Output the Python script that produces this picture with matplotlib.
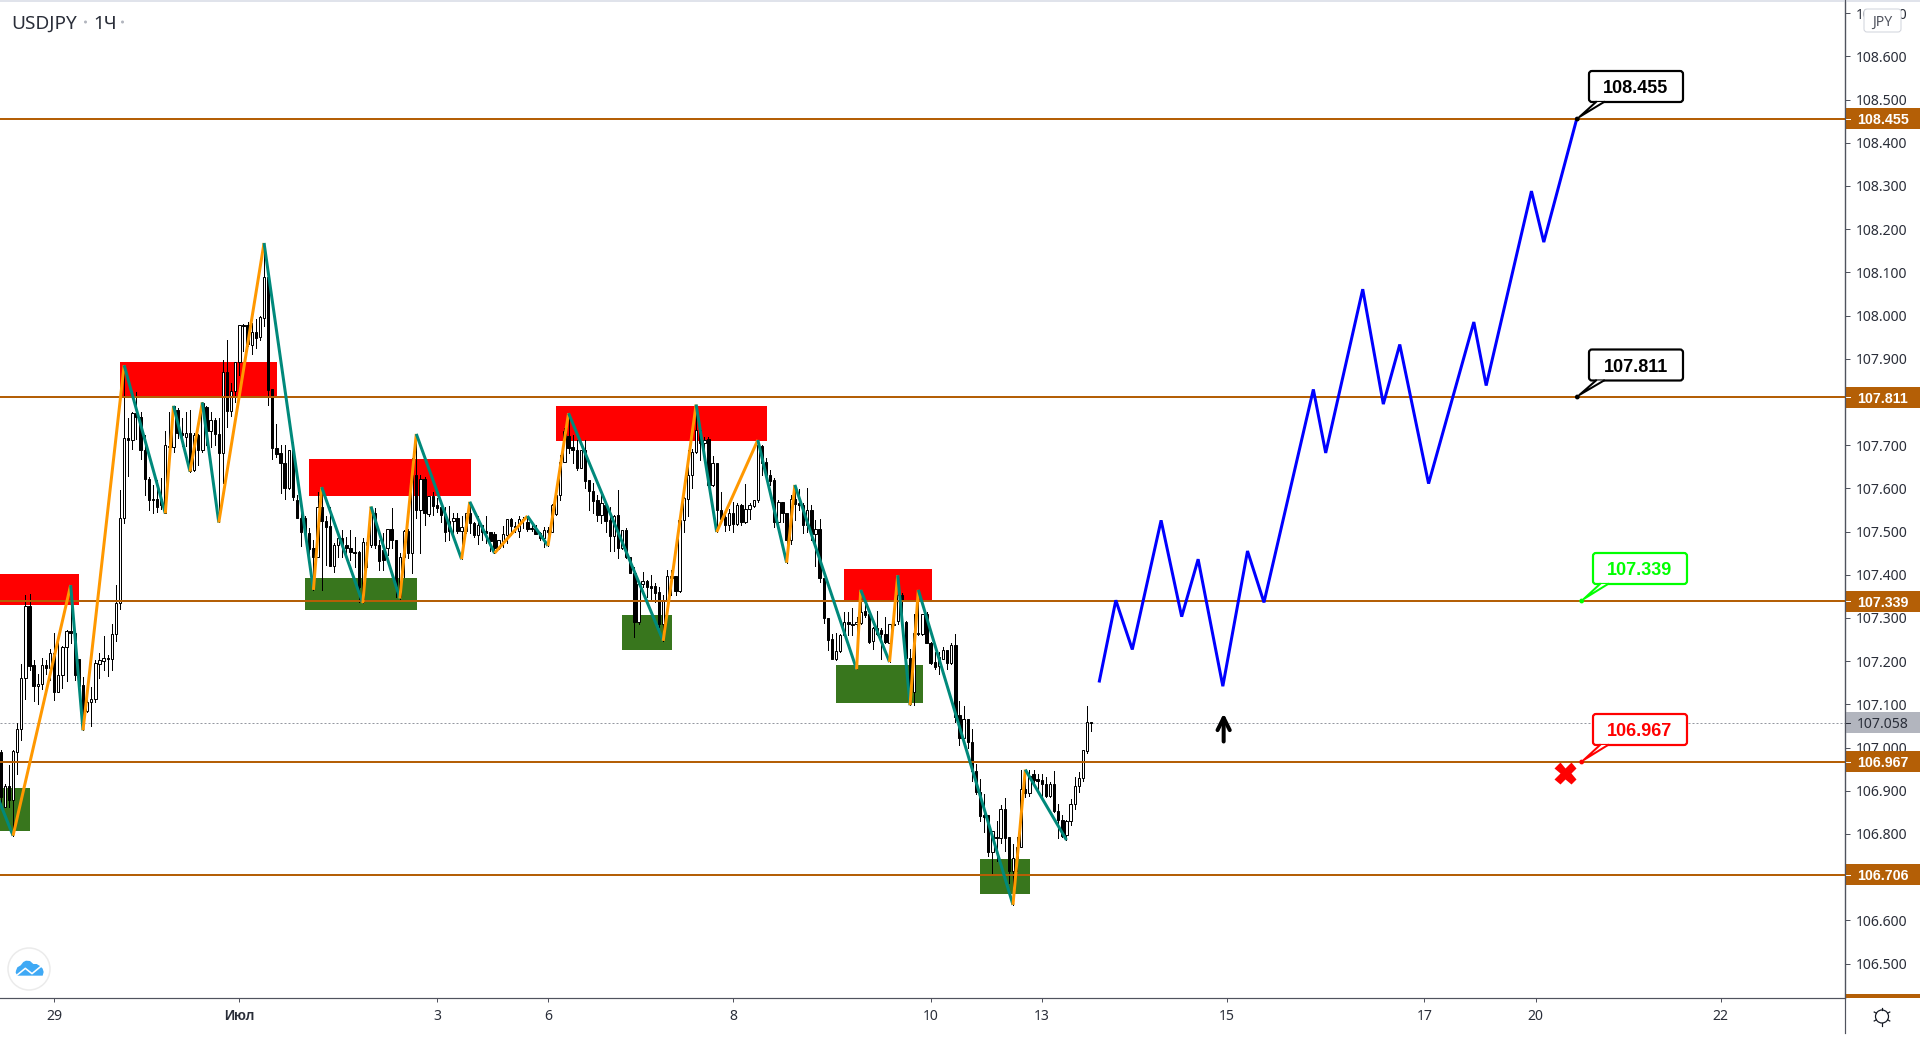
import matplotlib
matplotlib.use('Agg')
import matplotlib.pyplot as plt
from matplotlib.patches import Rectangle, Circle, FancyBboxPatch, Polygon
import numpy as np

plt.rcParams['font.family'] = ['Noto Sans', 'DejaVu Sans']
BOLD_FONT = ['Liberation Sans', 'DejaVu Sans']

# candles, one per hour
open_px = [
    106.990,106.862,106.911,106.879,106.990,107.044,107.160,107.328,107.190,107.143,
    107.147,107.190,107.185,107.218,107.129,107.169,107.232,107.270,107.266,107.204,
    107.144,107.084,107.106,107.113,107.194,107.201,107.208,107.205,107.262,107.334,
    107.531,107.716,107.711,107.774,107.765,107.689,107.621,107.576,107.576,107.576,
    107.544,107.699,107.695,107.782,107.728,107.718,107.728,107.643,107.724,107.688,
    107.788,107.732,107.759,107.726,107.681,107.869,107.778,107.825,107.892,107.977,
    107.977,107.931,107.962,107.950,107.995,108.090,107.830,107.693,107.681,107.658,
    107.600,107.689,107.573,107.531,107.531,107.496,107.461,107.442,107.556,107.525,
    107.513,107.420,107.468,107.484,107.470,107.461,107.453,107.452,107.338,107.475,
    107.470,107.542,107.469,107.457,107.461,107.505,107.481,107.348,107.440,107.501,
    107.451,107.631,107.549,107.621,107.541,107.583,107.561,107.556,107.541,107.525,
    107.525,107.531,107.502,107.502,107.542,107.519,107.493,107.515,107.502,107.498,
    107.494,107.461,107.478,107.493,107.528,107.513,107.502,107.528,107.522,107.507,
    107.505,107.496,107.484,107.503,107.498,107.541,107.585,107.661,107.722,107.695,
    107.688,107.647,107.688,107.620,107.593,107.573,107.539,107.562,107.527,107.490,
    107.539,107.461,107.504,107.442,107.405,107.291,107.378,107.385,107.374,107.374,
    107.361,107.287,107.341,107.396,107.396,107.363,107.527,107.575,107.631,107.685,
    107.736,107.706,107.714,107.608,107.658,107.550,107.533,107.515,107.542,107.518,
    107.561,107.521,107.552,107.559,107.572,107.699,107.661,107.631,107.620,107.521,
    107.568,107.544,107.481,107.575,107.566,107.562,107.515,107.550,107.494,107.505,
    107.392,107.299,107.251,107.205,107.224,107.260,107.290,107.286,107.286,107.289,
    107.317,107.309,107.246,107.276,107.272,107.264,107.243,107.286,107.293,107.353,
    107.291,107.208,107.129,107.266,107.264,107.309,107.243,107.198,107.189,107.206,
    107.225,107.196,107.237,107.075,107.023,107.065,107.014,106.946,106.898,106.843,
    106.843,106.758,106.794,106.790,106.858,106.793,106.714,106.745,106.769,106.905,
    106.895,106.938,106.928,106.924,106.916,106.887,106.916,106.853,106.833,106.798,
    106.830,106.870,106.911,106.930,106.992,107.060,
]
high_px = [
    106.994,106.916,106.959,106.994,107.057,107.193,107.353,107.355,107.202,107.171,
    107.207,107.202,107.228,107.266,107.249,107.235,107.272,107.376,107.268,107.204,
    107.164,107.133,107.140,107.202,107.220,107.258,107.214,107.286,107.376,107.597,
    107.885,107.763,107.777,107.824,107.777,107.724,107.627,107.608,107.620,107.624,
    107.732,107.777,107.791,107.786,107.763,107.777,107.782,107.728,107.726,107.799,
    107.790,107.777,107.763,107.763,107.898,107.944,107.844,107.892,107.977,107.981,
    107.985,107.983,107.991,107.998,108.168,108.091,107.830,107.750,107.701,107.701,
    107.689,107.708,107.585,107.554,107.535,107.508,107.481,107.591,107.603,107.535,
    107.556,107.474,107.496,107.504,107.488,107.504,107.488,107.456,107.484,107.488,
    107.558,107.554,107.481,107.496,107.505,107.554,107.481,107.450,107.504,107.505,
    107.670,107.726,107.631,107.626,107.583,107.591,107.577,107.559,107.558,107.559,
    107.542,107.542,107.535,107.544,107.569,107.523,107.535,107.515,107.535,107.498,
    107.500,107.480,107.512,107.528,107.531,107.523,107.535,107.533,107.536,107.515,
    107.515,107.498,107.511,107.511,107.563,107.585,107.678,107.740,107.774,107.724,
    107.712,107.689,107.712,107.620,107.612,107.585,107.589,107.566,107.558,107.539,
    107.597,107.504,107.508,107.442,107.419,107.380,107.407,107.388,107.399,107.380,
    107.372,107.353,107.411,107.411,107.396,107.527,107.581,107.689,107.691,107.794,
    107.736,107.719,107.719,107.674,107.658,107.591,107.550,107.552,107.569,107.566,
    107.564,107.610,107.567,107.573,107.712,107.701,107.670,107.643,107.624,107.573,
    107.569,107.544,107.585,107.608,107.598,107.566,107.600,107.562,107.527,107.528,
    107.392,107.299,107.262,107.266,107.264,107.314,107.314,107.322,107.303,107.365,
    107.334,107.310,107.280,107.317,107.276,107.303,107.287,107.320,107.399,107.357,
    107.293,107.229,107.310,107.365,107.310,107.314,107.245,107.222,107.222,107.233,
    107.225,107.241,107.264,107.107,107.096,107.066,107.044,106.961,106.928,106.893,
    106.843,106.806,106.829,106.868,106.884,106.793,106.776,106.793,106.949,106.949,
    106.947,106.949,106.938,106.939,106.932,106.920,106.946,106.870,106.845,106.833,
    106.881,106.932,106.943,106.995,107.096,107.060,
]
low_px = [
    106.862,106.862,106.862,106.796,106.939,107.017,107.113,107.179,107.107,107.100,
    107.135,107.170,107.157,107.110,107.129,107.137,107.154,107.241,107.156,107.140,
    107.040,107.082,107.050,107.105,107.161,107.179,107.165,107.179,107.247,107.321,
    107.520,107.629,107.692,107.715,107.669,107.585,107.549,107.542,107.545,107.552,
    107.542,107.690,107.685,107.717,107.699,107.699,107.639,107.641,107.654,107.684,
    107.701,107.695,107.701,107.521,107.612,107.741,107.767,107.801,107.863,107.917,
    107.929,107.910,107.926,107.944,107.975,107.792,107.669,107.672,107.589,107.575,
    107.598,107.572,107.531,107.467,107.495,107.442,107.365,107.440,107.365,107.423,
    107.420,107.407,107.442,107.442,107.436,107.434,107.419,107.338,107.334,107.417,
    107.465,107.461,107.411,107.411,107.446,107.461,107.349,107.345,107.395,107.438,
    107.403,107.531,107.450,107.515,107.535,107.539,107.546,107.523,107.477,107.481,
    107.488,107.496,107.436,107.496,107.496,107.488,107.471,107.481,107.473,107.454,
    107.450,107.459,107.465,107.473,107.492,107.500,107.487,107.508,107.502,107.502,
    107.494,107.481,107.465,107.467,107.498,107.539,107.573,107.660,107.682,107.658,
    107.643,107.647,107.600,107.549,107.542,107.525,107.519,107.500,107.454,107.454,
    107.438,107.459,107.438,107.403,107.256,107.285,107.372,107.349,107.345,107.338,
    107.280,107.247,107.338,107.353,107.353,107.361,107.500,107.535,107.600,107.682,
    107.666,107.678,107.608,107.606,107.499,107.519,107.502,107.504,107.500,107.515,
    107.515,107.519,107.528,107.558,107.569,107.631,107.624,107.608,107.511,107.515,
    107.523,107.428,107.471,107.527,107.550,107.496,107.500,107.481,107.420,107.384,
    107.289,107.225,107.205,107.202,107.222,107.260,107.260,107.260,107.181,107.287,
    107.303,107.241,107.227,107.260,107.206,107.241,107.198,107.283,107.287,107.280,
    107.194,107.098,107.098,107.260,107.260,107.241,107.194,107.183,107.170,107.204,
    107.183,107.194,107.059,107.005,107.021,106.999,106.922,106.893,106.831,106.804,
    106.748,106.709,106.737,106.779,106.760,106.686,106.636,106.715,106.769,106.885,
    106.887,106.916,106.901,106.887,106.885,106.885,106.851,106.790,106.793,106.786,
    106.820,106.858,106.897,106.922,106.987,107.038,
]
close_px = [
    106.885,106.911,106.878,106.992,107.044,107.160,107.328,107.188,107.143,107.148,
    107.190,107.185,107.218,107.129,107.169,107.232,107.270,107.266,107.167,107.143,
    107.085,107.106,107.113,107.195,107.202,107.208,107.205,107.262,107.334,107.531,
    107.716,107.711,107.774,107.765,107.688,107.621,107.572,107.572,107.556,107.562,
    107.701,107.695,107.790,107.728,107.724,107.728,107.641,107.724,107.688,107.797,
    107.732,107.759,107.725,107.681,107.869,107.778,107.825,107.892,107.977,107.975,
    107.933,107.962,107.949,107.996,108.090,107.828,107.693,107.680,107.658,107.600,
    107.689,107.581,107.531,107.500,107.496,107.459,107.442,107.556,107.525,107.511,
    107.420,107.468,107.484,107.470,107.461,107.453,107.451,107.372,107.475,107.470,
    107.542,107.468,107.433,107.434,107.505,107.481,107.372,107.440,107.501,107.451,
    107.631,107.549,107.621,107.542,107.583,107.559,107.554,107.539,107.500,107.501,
    107.531,107.502,107.511,107.542,107.519,107.492,107.515,107.499,107.496,107.477,
    107.461,107.480,107.494,107.528,107.513,107.511,107.528,107.527,107.505,107.508,
    107.494,107.484,107.503,107.500,107.562,107.585,107.662,107.732,107.693,107.688,
    107.647,107.688,107.617,107.593,107.571,107.539,107.566,107.525,107.490,107.537,
    107.461,107.504,107.442,107.405,107.291,107.378,107.385,107.371,107.370,107.358,
    107.287,107.341,107.396,107.392,107.363,107.527,107.577,107.631,107.685,107.734,
    107.706,107.712,107.608,107.658,107.550,107.529,107.515,107.542,107.518,107.562,
    107.521,107.552,107.562,107.573,107.701,107.658,107.631,107.617,107.521,107.568,
    107.542,107.481,107.575,107.564,107.562,107.515,107.550,107.494,107.505,107.392,
    107.299,107.249,107.205,107.224,107.260,107.290,107.286,107.284,107.291,107.314,
    107.307,107.245,107.276,107.264,107.263,107.245,107.286,107.283,107.353,107.341,
    107.208,107.100,107.266,107.263,107.309,107.243,107.196,107.187,107.210,107.225,
    107.196,107.237,107.071,107.023,107.065,107.013,106.946,106.897,106.841,106.839,
    106.758,106.806,106.790,106.858,106.790,106.714,106.745,106.769,106.905,106.895,
    106.934,106.926,106.922,106.915,106.887,106.916,106.853,106.833,106.796,106.831,
    106.870,106.912,106.930,106.994,107.059,107.057,
]

# zigzag turning points, alternating down / up legs
zz_bar = [-4, 3, 17, 20, 30, 40, 42, 46, 49, 53, 64, 76, 78, 88, 90, 97, 101, 112, 114, 120,
          128, 133, 138, 161, 169, 174, 184, 191, 193, 208, 209, 216, 218, 221, 223, 246, 249, 259]
zz_price = [106.963, 106.796, 107.376, 107.040, 107.885, 107.542, 107.791, 107.639, 107.799, 107.521,
            108.168, 107.365, 107.603, 107.334, 107.558, 107.345, 107.726, 107.436, 107.569, 107.450,
            107.536, 107.467, 107.774, 107.247, 107.794, 107.499, 107.712, 107.428, 107.608, 107.181,
            107.365, 107.198, 107.399, 107.098, 107.365, 106.636, 106.949, 106.786]

# projected path
path_bar = [267, 271, 275, 282, 287, 291, 297, 303, 307, 319, 322, 331, 336, 340, 347, 358, 361, 372, 375, 383]
path_price = [107.154, 107.341, 107.227, 107.526, 107.303, 107.436, 107.142, 107.455, 107.336, 107.829,
              107.682, 108.061, 107.795, 107.933, 107.611, 107.985, 107.838, 108.288, 108.170, 108.455]

# zones: start bar, end bar, low, high
red_start = [-5, 29, 74.9, 134.9, 204.9]
red_end = [19, 67.1, 114.3, 186.2, 226.3]
red_low = [107.330, 107.808, 107.583, 107.710, 107.339]
red_high = [107.402, 107.893, 107.668, 107.791, 107.413]
green_start = [-5, 73.9, 150.9, 203, 238]
green_end = [7.1, 101.2, 163.1, 224.1, 250.1]
green_low = [106.808, 107.318, 107.225, 107.103, 106.660]
green_high = [106.907, 107.392, 107.307, 107.191, 106.741]

levels = [108.455, 107.811, 107.339, 106.967, 106.706]
last_price = 107.058
price_ticks = np.arange(106.5, 108.75, 0.1)
day_ticks = [13, 58, 106, 133, 178, 226, 253, 298, 346, 373, 418]
day_labels = ['29', 'Июл', '3', '6', '8', '10', '13', '15', '17', '20', '22']

BROWN = '#b45f06'
AXIS = '#50535e'
TEXT = '#2a2e39'
W, H = 1920, 1038
PX = 0.72  # one pixel in points at dpi 100

fig = plt.figure(figsize=(W / 100, H / 100), dpi=100, facecolor='white')
ax = fig.add_axes([0, (H - 998) / H, 1845 / W, 996 / H])
ax.set_xlim(-0.17, 448.2)
ax.set_ylim(106.4203, 108.7258)

for i in range(len(red_start)):
    ax.add_patch(Rectangle((red_start[i], red_low[i]), red_end[i] - red_start[i], red_high[i] - red_low[i],
                           fc='#ff0000', ec='none', zorder=1))
for i in range(len(green_start)):
    ax.add_patch(Rectangle((green_start[i], green_low[i]), green_end[i] - green_start[i], green_high[i] - green_low[i],
                           fc='#38761d', ec='none', zorder=1))

ax.axhline(last_price, color='#9598a1', lw=PX, ls=(0, (2, 2)), zorder=1.5)

opens, highs, lows, closes = map(np.array, (open_px, high_px, low_px, close_px))
bars = np.arange(len(opens))
ax.vlines(bars, lows, highs, color='black', lw=PX, zorder=3, antialiased=False)
up = closes >= opens
ax.bar(bars, np.abs(closes - opens), bottom=np.minimum(opens, closes), width=0.57,
       color=np.where(up, 'white', 'black').tolist(), edgecolor='black', lw=PX, zorder=3.1)

for lvl in levels:
    ax.axhline(lvl, color=BROWN, lw=2 * PX, zorder=4)

for i in range(len(zz_bar) - 1):
    leg_color = '#00897b' if zz_price[i + 1] < zz_price[i] else '#ff9800'
    ax.plot(zz_bar[i:i + 2], zz_price[i:i + 2], color=leg_color, lw=3 * PX, zorder=5,
            solid_capstyle='butt')

ax.plot(path_bar, path_price, color='#0000ff', lw=3 * PX, zorder=5, solid_joinstyle='miter')

# axes
for side in ('top', 'left'):
    ax.spines[side].set_visible(False)
ax.spines['right'].set_color(AXIS)
ax.spines['bottom'].set_color(AXIS)
ax.spines['right'].set_linewidth(1.2 * PX)
ax.spines['bottom'].set_linewidth(1.2 * PX)
ax.yaxis.tick_right()
ax.set_yticks(price_ticks)
ax.set_yticklabels(['%.3f' % p for p in price_ticks], va='center_baseline')
ax.tick_params(axis='y', length=5 * PX, width=PX, color=AXIS, labelcolor=TEXT, labelsize=14 * PX, pad=5.5 * PX)
ax.set_xticks(day_ticks)
ax.set_xticklabels(day_labels)
ax.tick_params(axis='x', length=4 * PX, width=PX, color=AXIS, labelcolor=TEXT, labelsize=14 * PX, pad=7 * PX)
month_label = ax.get_xticklabels()[1]
month_label.set_family(BOLD_FONT)
month_label.set_fontweight('bold')

# price tags on the scale
tag_tf = ax.get_yaxis_transform()
tag_half = 10.5 / 432
tag_w = 75 / 1845
for lvl in levels + [last_price]:
    is_last = lvl == last_price
    ax.add_patch(Rectangle((1, lvl - tag_half), tag_w, 2 * tag_half, transform=tag_tf, clip_on=False,
                           fc='#b2b5be' if is_last else BROWN, ec='none', zorder=6))
    ax.plot([1, 1 + 5 / 1845], [lvl, lvl], transform=tag_tf, clip_on=False, lw=PX,
            color=TEXT if is_last else 'white', zorder=6.5)
    if is_last:
        ax.text(1 + 11.7 / 1845, lvl, '%.3f' % lvl, transform=tag_tf, clip_on=False, va='center_baseline', ha='left',
                fontsize=14 * PX, color=TEXT, zorder=7)
    else:
        ax.text(1 + 11.7 / 1845, lvl, '%.3f' % lvl, transform=tag_tf, clip_on=False, va='center_baseline', ha='left',
                fontsize=14.3 * PX, color='white', family=BOLD_FONT, fontweight='bold', zorder=7)

# arrow and cross
ax.annotate('', xy=(297.2, 107.079), xytext=(297.2, 107.014), zorder=7,
            arrowprops=dict(arrowstyle='->,head_length=0.4,head_width=0.2', color='black', lw=4 * PX,
                            mutation_scale=22, shrinkA=0, shrinkB=0))
ax.plot([380.2], [106.942], marker='X', ms=22 * PX, color='#ff0000', mec='none', zorder=7)

# overlay in pixels for the chart furniture
ov = fig.add_axes([0, 0, 1, 1], zorder=10)
ov.set_xlim(0, W)
ov.set_ylim(H, 0)
ov.axis('off')
ov.patch.set_alpha(0)

ov.add_patch(Rectangle((0, 0), W, 2, fc='#e0e3eb', ec='none'))
ov.plot([1845, 1845], [0, 1033], color=AXIS, lw=1.2 * PX)
ov.add_patch(Rectangle((1845, 994), 75, 4, fc=BROWN, ec='none'))

ov.text(11, 22, 'USDJPY', fontsize=19 * PX, color=TEXT, va='center_baseline')
ov.text(93, 22, '1Ч', fontsize=19 * PX, color=TEXT, va='center_baseline')
ov.add_patch(Circle((85.5, 22), 1.5, fc='#b2b5be', ec='none'))
ov.add_patch(Circle((122.5, 22), 1.5, fc='#b2b5be', ec='none'))

ov.add_patch(FancyBboxPatch((1864, 9), 37, 23, boxstyle='round,pad=0,rounding_size=3', fc='white', ec='#d1d4dc', lw=PX))
ov.text(1882.5, 20.5, 'JPY', fontsize=14 * PX, color=AXIS, ha='center', va='center_baseline')

# callouts
callouts = [
    ('108.455', 'black', 1589, 71, 1577.3, 119),
    ('107.811', 'black', 1589, 349.5, 1577.3, 397),
    ('107.339', '#00ff00', 1593, 553, 1581.7, 601),
    ('106.967', '#ff0000', 1593, 714, 1581.7, 762),
]
for label, col, bx, by, px, py in callouts:
    ov.add_patch(FancyBboxPatch((bx, by), 94, 31, boxstyle='round,pad=0,rounding_size=3', fc='white', ec=col, lw=2.2 * PX))
    ov.text(bx + 47, by + 15.5, label, fontsize=18 * PX, family=BOLD_FONT, fontweight='bold', color=col,
            ha='center', va='center_baseline')
    tail = [(bx + 7, by + 31), (px + 2, py - 2), (bx + 15, by + 31)]
    ov.add_patch(Polygon(tail, closed=True, fc='white', ec='none', zorder=3))
    ov.plot([tail[0][0], tail[1][0], tail[2][0]], [tail[0][1], tail[1][1], tail[2][1]], color=col, lw=2 * PX, zorder=3.1)
    ov.add_patch(Circle((px, py), 2.4, fc=col, ec='none', zorder=3.2))

# logo
ov.add_patch(Circle((29, 969), 21, fc='white', ec='#ebebeb', lw=1.5 * PX))
cloud_x = np.array([48, 52, 62, 70, 78, 90, 100, 110, 120, 128, 131, 128, 52, 47]) / 3
cloud_y = 940 + np.array([92, 82, 76, 66, 62, 63, 72, 72, 78, 86, 96, 107, 107, 98]) / 3
ov.add_patch(Polygon(np.column_stack([cloud_x, cloud_y]), closed=True, fc='#3fa9f5', ec='none'))
ov.plot(np.array([50, 76, 96, 124]) / 3, 940 + np.array([106, 85, 101, 78]) / 3, color='white', lw=1.6 * PX)

# settings gear
ov.add_patch(Circle((1882, 1016.5), 6.5, fc='white', ec='#131722', lw=1.2 * PX))
for ang in np.arange(0, 360, 60) + 30:
    c, s = np.cos(np.radians(ang)), np.sin(np.radians(ang))
    ov.plot([1882 + 6.5 * c, 1882 + 9 * c], [1016.5 + 6.5 * s, 1016.5 + 9 * s], color='#131722', lw=1.2 * PX)

fig.savefig('out.png', dpi=100)
